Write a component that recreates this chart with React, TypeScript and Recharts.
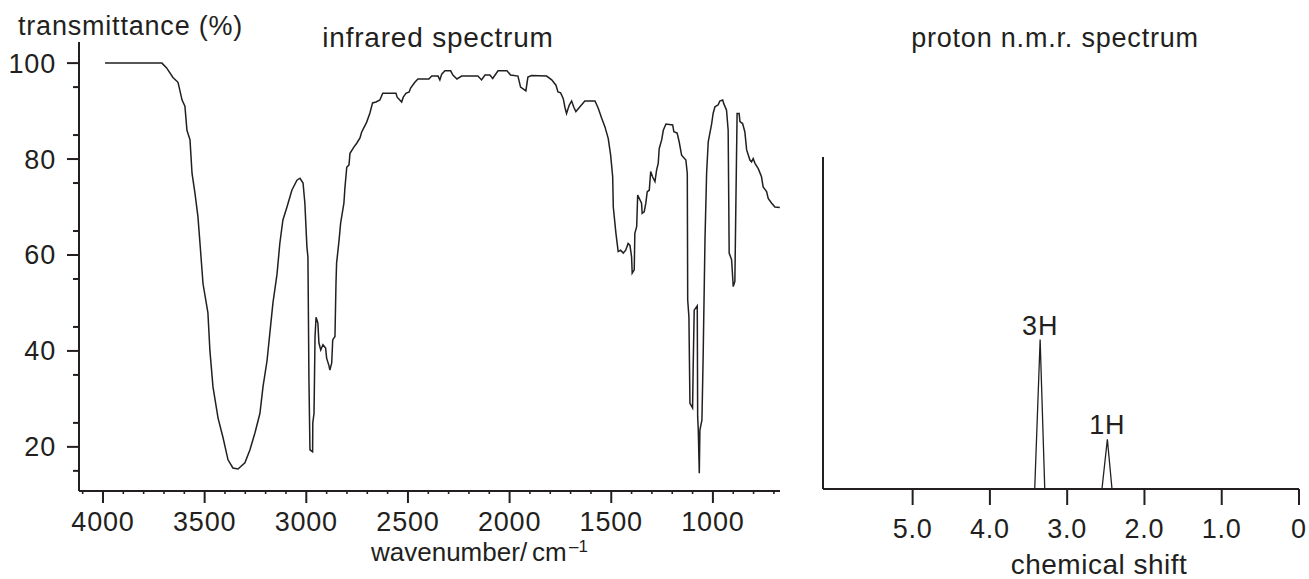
import React from 'react';
import { LineChart, Line, XAxis, YAxis, LabelList } from 'recharts';

const INK = '#231f20';
const FONT = '"Liberation Sans", Arial, Helvetica, sans-serif';
const FS = 27;
const LS = 0.8;

// infrared spectrum: wavenumber (cm-1) and transmittance (%)
const irWavenumber = [
  3990, 3710, 3687, 3656, 3631, 3611, 3597, 3587, 3572, 3562, 3548, 3533, 3523, 3508, 3484, 3474,
  3459, 3434, 3410, 3385, 3361, 3336, 3302, 3277, 3252, 3228, 3213, 3193, 3179, 3164, 3144, 3130,
  3115, 3095, 3071, 3046, 3031, 3016, 3007, 2997, 2992, 2987, 2982, 2969, 2968, 2962, 2957, 2952,
  2943, 2938, 2929, 2918, 2905, 2900, 2889, 2884, 2875, 2870, 2859, 2854, 2851, 2839, 2831, 2815,
  2810, 2801, 2790, 2785, 2766, 2752, 2736, 2728, 2711, 2703, 2687, 2674, 2657, 2638, 2624, 2559,
  2553, 2531, 2523, 2510, 2494, 2487, 2466, 2451, 2397, 2383, 2352, 2343, 2334, 2318, 2290, 2279,
  2259, 2236, 2156, 2138, 2121, 2097, 2083, 2057, 2013, 1995, 1959, 1946, 1920, 1910, 1892, 1818,
  1793, 1772, 1762, 1749, 1736, 1728, 1720, 1707, 1695, 1684, 1674, 1654, 1630, 1580, 1564, 1547,
  1531, 1515, 1503, 1493, 1490, 1477, 1466, 1454, 1441, 1429, 1417, 1408, 1400, 1397, 1387, 1384,
  1375, 1370, 1351, 1348, 1338, 1330, 1323, 1313, 1306, 1297, 1285, 1277, 1269, 1264, 1252, 1244,
  1231, 1198, 1192, 1176, 1166, 1154, 1133, 1126, 1124, 1118, 1113, 1100, 1097, 1092, 1077, 1075,
  1072, 1067, 1064, 1054, 1048, 1039, 1031, 1023, 1006, 999, 990, 974, 966, 952, 946, 933,
  925, 920, 908, 900, 892, 887, 881, 871, 867, 854, 843, 834, 818, 810, 802, 793,
  777, 761, 753, 736, 728, 711, 695, 671,
];
const irTransmittance = [
  100, 100, 99, 97, 96, 92.3, 91, 86, 84, 77, 73, 68, 62.5, 54, 48, 40,
  32.5, 26, 22, 17.3, 15.6, 15.4, 16.7, 19.4, 23, 27, 32.5, 38, 43.8, 50, 56, 62.5,
  67.3, 70, 73.5, 75.6, 76, 75, 70.8, 61.7, 59.6, 34, 19.4, 19, 25, 27, 43, 47,
  45.8, 41.7, 40.2, 41.3, 40.6, 38.5, 37, 36, 37.5, 42.3, 43, 54, 58.3, 63, 66.7, 70.8,
  74, 78.3, 78.8, 81.2, 82.5, 83.3, 84.4, 85.6, 87, 87.7, 89.6, 91.7, 91.9, 92.3, 93.7, 93.7,
  92.9, 91.9, 92.9, 93.7, 94, 94.8, 96, 96.7, 96.7, 97.3, 97.3, 96.5, 97.7, 98.4, 98.4, 97.5,
  96.7, 97.3, 97.3, 96.5, 97.5, 97.5, 96.8, 98.4, 98.4, 97.5, 97.3, 95, 94.2, 97.1, 97.4, 97.3,
  96.5, 95.4, 94, 93.8, 92.6, 90.8, 89.5, 91.2, 92.1, 90.8, 89.9, 90.9, 92.1, 92.1, 90.6, 88.5,
  86.7, 84.3, 80.8, 76.3, 70, 64.5, 60.7, 61, 60.4, 61, 62.4, 62, 59.6, 56.2, 56.9, 64.5,
  65.9, 72.5, 70.8, 68.7, 69, 70.8, 73.2, 73.5, 77.4, 76.3, 75.3, 77.7, 79.1, 82.2, 84, 86,
  87.3, 87.1, 85.7, 85.4, 83.6, 80.8, 79.8, 77, 50.6, 47.1, 29.1, 28.1, 36.8, 48.5, 49.4, 26.3,
  23.5, 14.5, 23.5, 25.6, 38.8, 63.1, 77, 83.6, 87.4, 89.5, 90.9, 91.3, 92.1, 92.3, 91.5, 90.2,
  86, 60.4, 59, 53.4, 54.5, 70.8, 89.5, 89.5, 87.8, 87.4, 85.7, 81.9, 79.8, 79.4, 80.1, 79.1,
  78, 76.3, 74.2, 73.2, 71.8, 70.8, 70, 69.9,
];

const irMajorX = [4000, 3500, 3000, 2500, 2000, 1500, 1000];
const irMinorX = [
  4100, 3900, 3800, 3700, 3600, 3400, 3300, 3200, 3100, 2900, 2800, 2700, 2600, 2400,
  2300, 2200, 2100, 1900, 1800, 1700, 1600, 1400, 1300, 1200, 1100, 900, 800, 700,
];
const irMajorY = [20, 40, 60, 80, 100];
const irMinorY = [15, 25, 35, 45, 55, 65, 75, 85, 95];

// proton n.m.r. spectrum
const nmrShift = [6.16, 3.42, 3.35, 3.29, 2.55, 2.48, 2.42, 0];
const nmrIntensity = [0, 0, 45, 0, 0, 15, 0, 0];
const nmrLabels = ['', '', '3H', '', '', '1H', '', ''];
const nmrTicks = [5, 4, 3, 2, 1, 0];

const irData = irWavenumber.map((w, i) => ({ w, t: irTransmittance[i] }));
const nmrData = nmrShift.map((s, i) => ({ s, v: nmrIntensity[i], label: nmrLabels[i] }));

const textStyle = { fontFamily: FONT, fontSize: FS, letterSpacing: LS, fill: INK };

const IrXTick = ({ x, y, payload }: any) => {
  const major = irMajorX.includes(payload.value);
  return (
    <g>
      <line x1={x} x2={x} y1={y} y2={y + (major ? 12 : 3)} stroke={INK} strokeWidth={major ? 2 : 1.6} />
      {major && (
        <text x={x} y={y + 40} textAnchor="middle" style={textStyle}>{payload.value}</text>
      )}
    </g>
  );
};

const IrYTick = ({ x, y, payload }: any) => {
  const major = irMajorY.includes(payload.value);
  return (
    <g>
      <line x1={x} x2={x - (major ? 12 : 6)} y1={y} y2={y} stroke={INK} strokeWidth={2} />
      {major && (
        <text x={x - 23} y={y + 9.5} textAnchor="end" style={textStyle}>{payload.value}</text>
      )}
    </g>
  );
};

const NmrXTick = ({ x, y, payload }: any) => (
  <g>
    <line x1={x} x2={x} y1={y} y2={y + 16} stroke={INK} strokeWidth={2} />
    <text x={x} y={y + 49} textAnchor="middle" style={textStyle}>
      {payload.value === 0 ? '0' : payload.value.toFixed(1)}
    </text>
  </g>
);

const PeakLabel = ({ x, y, value }: any) =>
  value ? (
    <text x={x} y={y - 5} textAnchor="middle" style={textStyle}>{value}</text>
  ) : null;

const App = () => (
  <div style={{ position: 'absolute', left: 0, top: 0, width: 1309, height: 579, background: '#fff' }}>
    <div style={{ position: 'absolute', left: 0, top: 0 }}>
      <LineChart width={800} height={579} data={irData} margin={{ top: 42, right: 20, bottom: 0, left: 0 }}>
        <XAxis
          dataKey="w"
          type="number"
          domain={[670, 4118]}
          reversed
          allowDataOverflow
          ticks={[...irMajorX, ...irMinorX]}
          interval={0}
          tick={<IrXTick />}
          tickLine={false}
          tickSize={0}
          tickMargin={0}
          height={88}
          axisLine={{ stroke: INK, strokeWidth: 2 }}
        />
        <YAxis
          type="number"
          domain={[10.8, 104.4]}
          allowDataOverflow
          ticks={[...irMajorY, ...irMinorY]}
          interval={0}
          tick={<IrYTick />}
          tickLine={false}
          tickSize={0}
          tickMargin={0}
          width={79}
          axisLine={{ stroke: INK, strokeWidth: 2 }}
        />
        <Line
          type="linear"
          dataKey="t"
          stroke={INK}
          strokeWidth={1.5}
          dot={false}
          isAnimationActive={false}
        />
      </LineChart>
    </div>
    <div style={{ position: 'absolute', left: 800, top: 0 }}>
      <LineChart width={509} height={579} data={nmrData} margin={{ top: 157, right: 10, bottom: 0, left: 0 }}>
        <XAxis
          dataKey="s"
          type="number"
          domain={[0, 6.16]}
          reversed
          allowDataOverflow
          ticks={nmrTicks}
          interval={0}
          tick={<NmrXTick />}
          tickLine={false}
          tickSize={0}
          tickMargin={0}
          height={90}
          axisLine={{ stroke: INK, strokeWidth: 2 }}
        />
        <YAxis
          type="number"
          domain={[0, 100]}
          allowDataOverflow
          tick={false}
          tickLine={false}
          width={23}
          axisLine={{ stroke: INK, strokeWidth: 2 }}
        />
        <Line
          type="linear"
          dataKey="v"
          stroke={INK}
          strokeWidth={1.3}
          dot={false}
          isAnimationActive={false}
        >
          <LabelList dataKey="label" content={<PeakLabel />} />
        </Line>
      </LineChart>
    </div>
    <svg width={1309} height={579} style={{ position: 'absolute', left: 0, top: 0, pointerEvents: 'none' }}>
      <text x={18} y={35} style={textStyle}>transmittance (%)</text>
      <text x={438} y={47} textAnchor="middle" style={{ ...textStyle, fontSize: 28 }}>infrared spectrum</text>
      <text x={1055} y={47} textAnchor="middle" style={textStyle}>proton n.m.r. spectrum</text>
      <text x={371} y={561} style={{ ...textStyle, fontSize: 26, letterSpacing: 0 }}>
        wavenumber
        <tspan x={520}>/</tspan>
        <tspan x={532}>cm</tspan>
        <tspan x={569} dy={-9} style={{ fontSize: 17 }}>–1</tspan>
      </text>
      <text x={1099} y={574} textAnchor="middle" style={{ ...textStyle, fontSize: 28, letterSpacing: 0.5 }}>chemical shift</text>
    </svg>
  </div>
);

export default App;
